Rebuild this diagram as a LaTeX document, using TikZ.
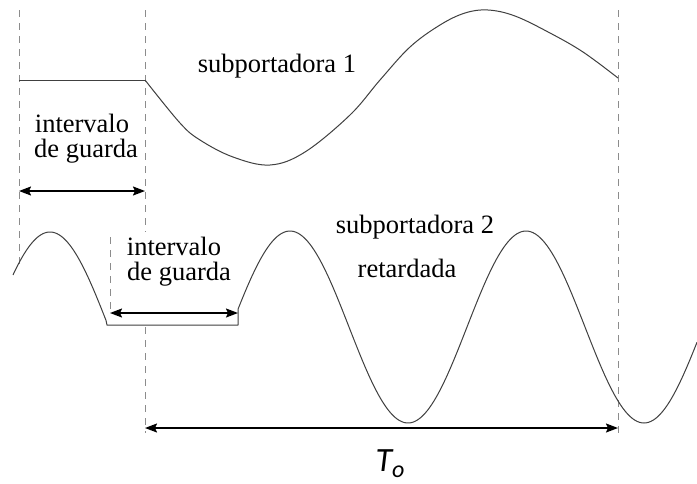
\documentclass[tikz,border=0pt]{standalone}
\usepackage{fontspec}
\setmainfont{Liberation Serif}
\newfontfamily\calfont{Carlito}
\usetikzlibrary{arrows.meta}
\begin{document}
\begin{tikzpicture}[x=1pt,y=-1pt,
  wave/.style={draw=black!75,line width=1pt,line join=round},
  guide/.style={draw=black!45,line width=0.9pt,dash pattern=on 7pt off 6pt},
  dimarrow/.style={line width=1.6pt,{Stealth[length=12pt,width=9pt,inset=2pt]}-{Stealth[length=12pt,width=9pt,inset=2pt]}},
  lbl/.style={font=\fontsize{26.5}{30}\selectfont,inner sep=0pt,anchor=base},
  tlbl/.style={font=\calfont\itshape\fontsize{34}{40}\selectfont,inner sep=0pt,anchor=base}]
\useasboundingbox (0,0) rectangle (697,483);
\fill[white] (0,0) rectangle (697,483);
% guide coordinates
\coordinate (a0) at (19,10);   \coordinate (a1) at (19,265);
\coordinate (b0) at (145,10);  \coordinate (b1) at (145,232);
\coordinate (b2) at (145,327); \coordinate (b3) at (145,433);
\coordinate (c0) at (110,237); \coordinate (c1) at (110,315);
\coordinate (d0) at (618,10);  \coordinate (d1) at (618,435);
\draw[guide] (a0) -- (a1);
\draw[guide] (b0) -- (b1);
\draw[guide] (b2) -- (b3);
\draw[guide] (c0) -- (c1);
\draw[guide] (d0) -- (d1);
% subcarrier 1
\coordinate (s1a) at (19,80); \coordinate (s1b) at (145,80);
\draw[wave] (s1a) -- (s1b);
\draw[wave] plot[smooth,tension=0.6] coordinates {(145,80) (180,123) (200,140) (233,157) (270,165) (305,152) (350,115) (380,80) (410,47) (440,25) (465,13) (488,10) (515,16) (550,33) (583,52) (618,78)};
% subcarrier 2
\draw[wave] plot[domain=13:106,samples=60] (\x,{328-96*cos((\x-50)/236*360)}) -- (107,325) -- (238,325) -- (238,313)
  -- plot[domain=238:697,samples=200] (\x,{327-96*cos((\x-290)/236*360)});
% dimension arrows
\coordinate (g1l) at (19,191);  \coordinate (g1r) at (145,191);
\coordinate (g2l) at (110,313); \coordinate (g2r) at (238,313);
\coordinate (tl) at (145,428);  \coordinate (tr) at (618,428);
\draw[dimarrow] (g1l) -- (g1r);
\draw[dimarrow] (g2l) -- (g2r);
\draw[dimarrow] (tl) -- (tr);
% labels
\node[lbl] (sub1) at (277,72) {subportadora 1};
\node[lbl] (int1) at (82,132) {intervalo};
\node[lbl] (gua1) at (86,157) {de guarda};
\node[lbl] (int2) at (174,255) {intervalo};
\node[lbl] (gua2) at (179,280) {de guarda};
\node[lbl] (sub2) at (415,233) {subportadora 2};
\node[lbl] (ret) at (407,277) {retardada};
\node[tlbl] (to) at (390,471) {T\raisebox{-0.2em}{\fontsize{24}{28}\selectfont o}};
\end{tikzpicture}
\end{document}
